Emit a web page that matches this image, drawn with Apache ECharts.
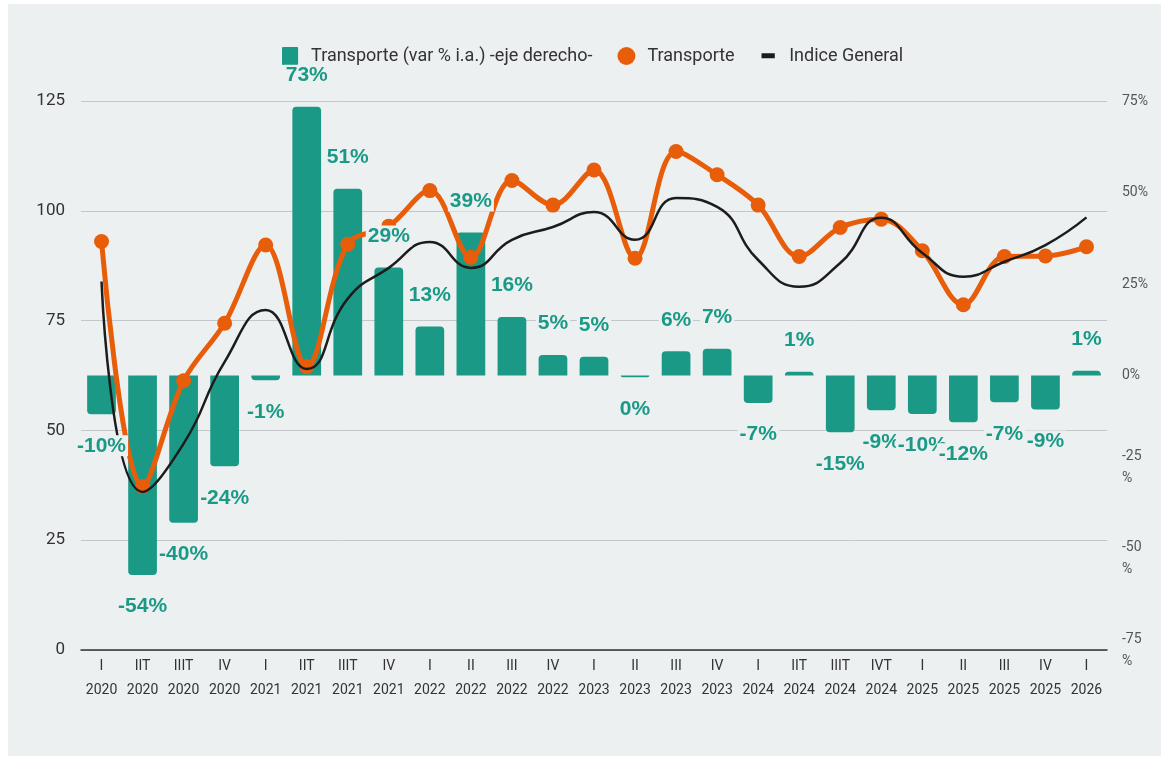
<!DOCTYPE html>
<html>
<head>
<meta charset="utf-8">
<script src="https://cdn.jsdelivr.net/npm/echarts@6/dist/echarts.min.js"></script>
<style>
  html, body { margin: 0; padding: 0; background: #ffffff; }
  #bg { position: absolute; left: 8px; top: 4px; width: 1153px; height: 752px; background: #ecf0f1; }
  #chart { position: absolute; left: 0; top: 0; width: 1161px; height: 761px; }
</style>
</head>
<body>
<div id="bg"></div>
<div id="chart"></div>
<script>
const categories = ['I\n2020','IIT\n2020','IIIT\n2020','IV\n2020','I\n2021','IIT\n2021','IIIT\n2021','IV\n2021',
  'I\n2022','II\n2022','III\n2022','IV\n2022','I\n2023','II\n2023','III\n2023','IV\n2023',
  'I\n2024','IIT\n2024','IIIT\n2024','IVT\n2024','I\n2025','II\n2025','III\n2025','IV\n2025','I\n2026'];

// Transporte, variación % interanual (eje derecho)
const varInteranual = [-10.6,-54.5,-40.2,-24.8,-1.3,73.4,51.0,29.5,13.4,39.1,16.0,5.6,5.1,-0.5,6.6,7.3,
  -7.5,1.0,-15.5,-9.5,-10.5,-12.8,-7.3,-9.3,1.3];

// Índices (eje izquierdo)
const transporte = [93.0,37.2,61.3,74.4,92.2,64.5,92.4,96.5,104.6,89.4,106.9,101.3,109.3,89.2,113.5,108.2,
  101.3,89.6,96.2,98.1,90.9,78.6,89.6,89.7,91.8];
const indiceGeneral = [83.9,36.0,47.0,65.6,77.4,64.0,80.0,87.0,92.9,87.0,93.4,96.3,99.7,93.4,102.9,100.9,
  88.8,82.7,88.1,98.4,90.4,85.0,88.4,92.2,98.5];

const leftTicks = { min: 0, max: 125, interval: 25 };
const rightTicks = { min: -75, max: 75, interval: 25 };

const names = ['Transporte (var % i.a.) -eje derecho-', 'Transporte', 'Indice General'];

const TEAL = '#1a9a86';
const ORANGE = '#e85d0a';
const BLACK = '#1c1c1c';
const BG = '#ecf0f1';

const barData = varInteranual.map(v => ({
  value: v,
  itemStyle: { borderRadius: v >= 0 ? [4, 4, 0, 0] : [0, 0, 4, 4] }
}));
const labelData = varInteranual.map(v => ({
  value: v,
  label: { position: v >= 0 ? 'top' : 'bottom' }
}));

const chart = echarts.init(document.getElementById('chart'), null, { renderer: 'canvas' });
chart.setOption({
  animation: false,
  backgroundColor: 'transparent',
  legend: {
    left: 277,
    top: 42,
    itemWidth: 18,
    itemHeight: 18,
    itemGap: 25,
    textStyle: { fontFamily: 'Roboto', fontSize: 18, color: '#333', padding: [0, 0, 0, 7] },
    data: [
      { name: names[0], icon: 'path://M1,0h15a1,1 0 0 1 1,1v17a1,1 0 0 1 -1,1h-15a1,1 0 0 1 -1,-1v-17a1,1 0 0 1 1,-1z', itemStyle: { color: TEAL } },
      { name: names[1], icon: 'circle', itemStyle: { color: ORANGE } },
      { name: names[2], icon: 'path://M0,0L0.01,0L0.01,0.01Z M2,6.5h14v5.5h-14z M17.99,19L18,19L18,18.99Z', itemStyle: { color: BLACK } }
    ]
  },
  grid: { left: 81, right: 54, top: 101, bottom: 111, containLabel: false },
  xAxis: {
    type: 'category',
    data: categories,
    axisLine: { show: true, lineStyle: { color: '#333', width: 1.5 } },
    axisTick: { show: false },
    axisLabel: { interval: 0, fontFamily: 'Roboto', fontSize: 14, color: '#333', lineHeight: 24, margin: 4 },
    splitLine: { show: false }
  },
  yAxis: [
    {
      type: 'value', position: 'left',
      min: leftTicks.min, max: leftTicks.max, interval: leftTicks.interval,
      axisLine: { show: false }, axisTick: { show: false },
      axisLabel: { fontFamily: 'Roboto', fontSize: 17, color: '#333', margin: 16 },
      splitLine: { show: true, lineStyle: { color: '#c4c7c9', width: 1 } }
    },
    {
      type: 'value', position: 'right',
      min: rightTicks.min, max: rightTicks.max, interval: rightTicks.interval,
      axisLine: { show: false }, axisTick: { show: false },
      axisLabel: {
        fontFamily: 'Roboto', fontSize: 14, color: '#555', margin: 15, lineHeight: 22,
        formatter: v => v < 0 ? v + '\n%' : v + '%'
      },
      splitLine: { show: false }
    }
  ],
  series: [
    {
      name: names[0], type: 'bar', yAxisIndex: 1, barWidth: '70%',
      itemStyle: { color: TEAL },
      data: barData, z: 2, silent: true
    },
    {
      name: names[1], type: 'line', yAxisIndex: 0, smooth: 0.35,
      symbol: 'circle', symbolSize: 15, showAllSymbol: true,
      lineStyle: { color: ORANGE, width: 5 },
      itemStyle: { color: ORANGE },
      data: transporte, z: 3, silent: true
    },
    {
      name: names[2], type: 'line', yAxisIndex: 0, smooth: 0.5,
      symbol: 'none',
      lineStyle: { color: BLACK, width: 2.5 },
      itemStyle: { color: BLACK },
      data: indiceGeneral, z: 4, silent: true
    },
    {
      name: 'etiquetas', type: 'bar', yAxisIndex: 1, barWidth: '70%', barGap: '-100%',
      itemStyle: { color: 'rgba(0,0,0,0)' },
      label: {
        show: true, distance: 21,
        fontFamily: 'Liberation Sans', fontWeight: 'bold', fontSize: 21, color: TEAL,
        backgroundColor: BG, padding: [0, 2],
        formatter: p => `${Math.trunc(p.value)}%`
      },
      data: labelData, z: 10, silent: true
    }
  ]
});
</script>
</body>
</html>
